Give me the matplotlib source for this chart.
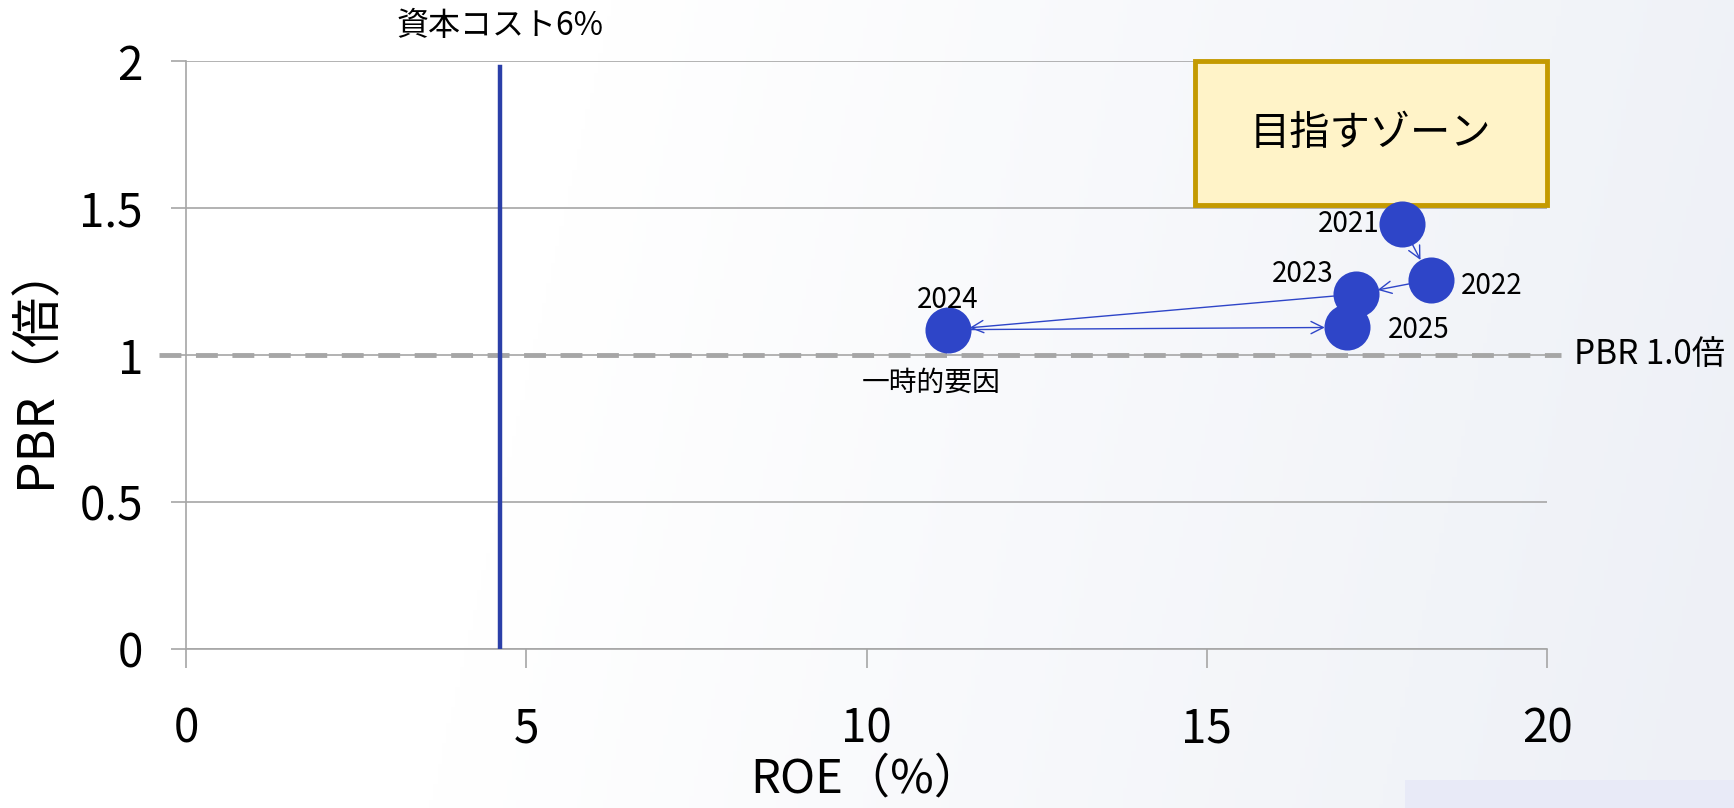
import numpy as np
import matplotlib.pyplot as plt
from matplotlib.patches import Rectangle

plt.rcParams['font.family'] = ['Noto Sans CJK JP', 'DejaVu Sans']

# データ
years = ['2021', '2022', '2023', '2024', '2025']
roe = [17.87, 18.29, 17.19, 11.19, 17.06]
pbr = [1.444, 1.256, 1.207, 1.086, 1.094]
cost_of_capital = 4.62
pbr_line = 1.0
x_ticks = [0, 5, 10, 15, 20]
y_ticks = [0, 0.5, 1, 1.5, 2]
y_tick_labels = ['0', '0.5', '1', '1.5', '2']

blue = '#2E45C8'

fig = plt.figure(figsize=(17.34, 8.08), dpi=100)

# 背景のグラデーション
bg = fig.add_axes([0, 0, 1, 1], zorder=-10)
gx = np.linspace(0, 1, 400)
gy = np.linspace(0, 1, 200)
X, Y = np.meshgrid(gx, gy)
t = np.clip((X - 0.3) / 0.7 + (0.5 - Y) * 0.15, 0, 1)
c0 = np.array([1.0, 1.0, 1.0])
c1 = np.array([0.935, 0.945, 0.968])
img = c0 + (c1 - c0) * t[..., None]
bg.imshow(img, extent=[0, 1, 0, 1], origin='lower', aspect='auto')
bg.add_patch(Rectangle((0.81, 0), 0.19, 0.035, color='#e8eaf7', lw=0))
bg.set_xlim(0, 1)
bg.set_ylim(0, 1)
bg.axis('off')

ax = fig.add_axes([0.1073, 0.1968, 0.7849, 0.7277])
ax.patch.set_alpha(0)

ax.set_xlim(0, 20)
ax.set_ylim(0, 2)
ax.set_xticks(x_ticks)
ax.set_yticks(y_ticks)
ax.set_yticklabels(y_tick_labels)
ax.grid(axis='y', color='#a6a6a6', lw=1.2)
ax.set_axisbelow(True)
for s in ['top', 'right']:
    ax.spines[s].set_visible(False)
ax.spines['left'].set_color('#a6a6a6')
ax.spines['bottom'].set_color('#a6a6a6')
ax.spines['left'].set_linewidth(1.2)
ax.spines['bottom'].set_linewidth(1.2)
ax.tick_params(axis='x', length=14, width=1.2, color='#a6a6a6', pad=26, labelsize=33)
ax.tick_params(axis='y', length=11, width=1.2, color='#a6a6a6', pad=20, labelsize=33)

fig.text(0.499, 0.036, 'ROE（%）', ha='center', va='center', fontsize=34)
fig.text(0.021, 0.548, 'PBR（倍）', ha='center', va='center', fontsize=36, rotation=90)

# 資本コスト
ax.plot([cost_of_capital, cost_of_capital], [0, 1.98], color='#2B3FA8', lw=3.2, zorder=3)
ax.text(cost_of_capital, 2.065, '資本コスト6%', ha='center', va='bottom', fontsize=23)

# PBR 1.0倍
ax.plot([-0.4, 20.2], [pbr_line, pbr_line], color='#a6a6a6', lw=3.5,
        dashes=(4.5, 3), clip_on=False, zorder=2)
ax.text(20.4, pbr_line, 'PBR 1.0倍', ha='left', va='center', fontsize=24)

# 目指すゾーン
ax.add_patch(Rectangle((14.83, 1.51), 5.17, 0.49, facecolor='#FFF3C8',
                       edgecolor='#C49A00', lw=3.5, zorder=4, clip_on=False))
ax.text(17.41, 1.755, '目指すゾーン', ha='center', va='center', fontsize=29, zorder=5)

# 矢印
for i in range(len(years) - 1):
    ax.annotate('', xy=(roe[i + 1], pbr[i + 1]), xytext=(roe[i], pbr[i]),
                arrowprops=dict(arrowstyle='->', color=blue, lw=1.0,
                                shrinkA=16, shrinkB=16, mutation_scale=22),
                zorder=5)

ax.scatter(roe, pbr, s=1100, color=blue, zorder=6, lw=0)

offsets = {'2021': (-0.33, 0, 'right', 'center'),
           '2022': (0.45, -0.02, 'left', 'center'),
           '2023': (-0.33, 0.07, 'right', 'center'),
           '2024': (0.0, 0.1, 'center', 'center'),
           '2025': (0.6, -0.01, 'left', 'center')}
for yr, x, y in zip(years, roe, pbr):
    dx, dy, ha, va = offsets[yr]
    ax.text(x + dx, y + dy, yr, ha=ha, va=va, fontsize=20, zorder=7)

ax.text(10.95, 0.905, '一時的要因', ha='center', va='center', fontsize=20)

fig.savefig('out.png', dpi=100)
